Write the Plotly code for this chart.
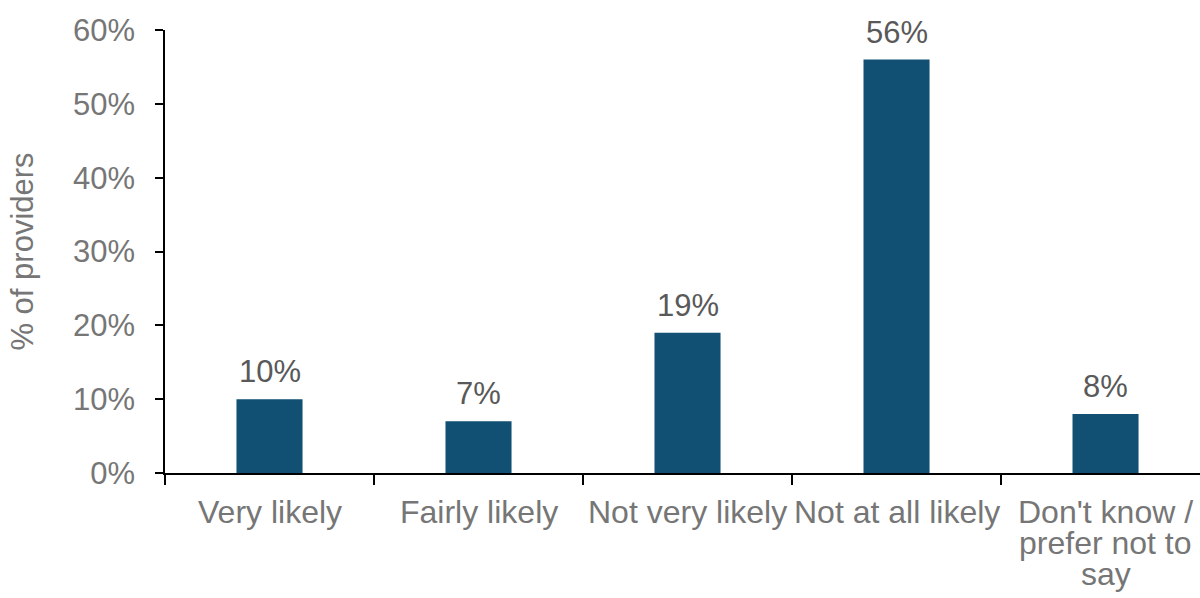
import plotly.graph_objects as go

categories = ["Very likely", "Fairly likely", "Not very likely", "Not at all likely",
              "Don't know /<br>prefer not to<br>say"]
values = [10, 7, 19, 56, 8]
y_ticks = [0, 10, 20, 30, 40, 50, 60]
y_tick_labels = [f"{v}%" for v in y_ticks]

BAR = "#114f73"
AXIS_TEXT = "#767676"
LABEL_TEXT = "#595959"
FONT = "Liberation Sans, Arial, sans-serif"
SIZE = 31
XSIZE = 32
LINE_GAP = 31  # px between wrapped category-label lines

fig = go.Figure(
    go.Bar(
        x=categories,
        y=values,
        width=0.316,
        marker=dict(color=BAR, line=dict(width=0)),
        hoverinfo="x+y",
    )
)

# value labels sitting above each bar
for cat, val in zip(categories, values):
    fig.add_annotation(
        x=cat, y=val, text=f"{val}%",
        showarrow=False, yanchor="bottom", yshift=8,
        font=dict(family=FONT, size=SIZE, color=LABEL_TEXT),
    )

# category labels under the axis, wrapped lines set tighter than the default
for cat in categories:
    for i, line in enumerate(cat.split("<br>")):
        fig.add_annotation(
            x=cat, xref="x", y=0, yref="paper", text=line,
            showarrow=False, yanchor="middle", yshift=-39 - i * LINE_GAP,
            font=dict(family=FONT, size=XSIZE, color=AXIS_TEXT),
        )

fig.update_layout(
    width=1200,
    height=598,
    margin=dict(l=165, r=0, t=30, b=125),
    paper_bgcolor="white",
    plot_bgcolor="white",
    showlegend=False,
    font=dict(family=FONT, size=SIZE, color=AXIS_TEXT),
)

fig.update_xaxes(
    type="category",
    range=[-0.5, 4.452],
    tickson="boundaries",
    showticklabels=False,
    automargin=False,
    ticks="outside",
    ticklen=10,
    tickwidth=1.5,
    tickcolor="black",
    showline=True,
    linecolor="black",
    linewidth=1.5,
    showgrid=False,
)

fig.update_yaxes(
    range=[0, 60],
    tickvals=y_ticks,
    ticktext=y_tick_labels,
    automargin=False,
    ticks="outside",
    ticklen=8,
    tickwidth=1.5,
    tickcolor="black",
    ticklabelstandoff=14,
    showline=True,
    linecolor="black",
    linewidth=1.5,
    showgrid=False,
    zeroline=False,
    tickfont=dict(family=FONT, size=SIZE, color=AXIS_TEXT),
    title=dict(text="% of providers", font=dict(family=FONT, size=SIZE, color=AXIS_TEXT), standoff=30),
)

fig.write_html("out.html")
